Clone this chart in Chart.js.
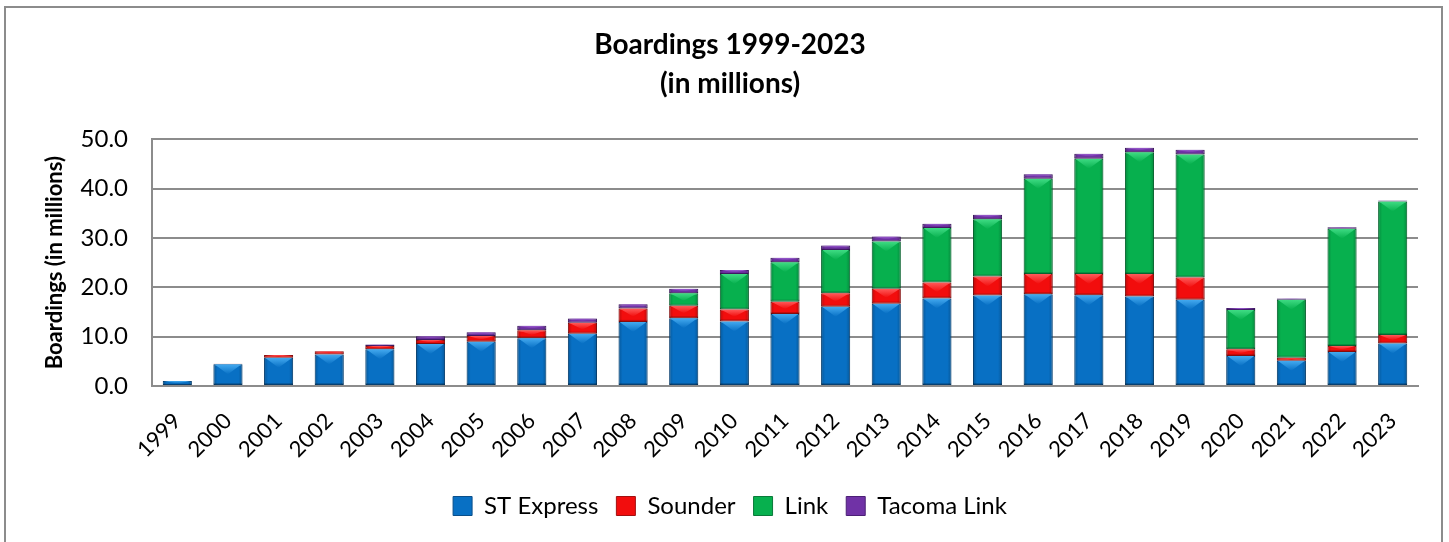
<!DOCTYPE html>
<html>
<head>
<meta charset="utf-8">
<script src="https://cdn.jsdelivr.net/npm/chart.js@4"></script>
<style>
  html, body { margin: 0; padding: 0; background: #fff; overflow: hidden; }
  #wrap { position: relative; width: 1449px; height: 542px; }
  #frame { position: absolute; left: 4px; top: 6px; width: 1439px; height: 600px;
           border: 2px solid #8c8c8c; box-sizing: border-box; pointer-events: none; }
</style>
</head>
<body>
<div id="wrap">
  <canvas id="chart"></canvas>
  <div id="frame"></div>
</div>
<script>
const years = ["1999","2000","2001","2002","2003","2004","2005","2006","2007","2008","2009","2010",
  "2011","2012","2013","2014","2015","2016","2017","2018","2019","2020","2021","2022","2023"];

const stExpress = [1.0, 4.4, 5.75, 6.4, 7.45, 8.5, 8.95, 9.7, 10.6, 13.0, 13.75, 13.1,
  14.6, 16.05, 16.7, 17.75, 18.35, 18.6, 18.4, 18.15, 17.5, 6.1, 5.1, 6.9, 8.6];
const sounder = [0, 0.1, 0.55, 0.65, 0.65, 0.85, 1.2, 1.6, 2.2, 2.7, 2.5, 2.4,
  2.5, 2.75, 3.0, 3.25, 3.85, 4.1, 4.3, 4.55, 4.5, 1.35, 0.65, 1.2, 1.75];
const link = [0, 0, 0, 0, 0, 0, 0, 0, 0, 0, 2.55, 7.2,
  8.0, 8.8, 9.6, 11.05, 11.6, 19.3, 23.4, 24.7, 24.95, 7.95, 11.75, 23.8, 27.05];
const tacomaLink = [0, 0, 0, 0, 0.3, 0.75, 0.75, 0.9, 0.9, 0.9, 0.9, 0.8,
  0.9, 0.9, 1.0, 0.85, 0.9, 0.95, 1.0, 0.9, 0.95, 0.4, 0.25, 0.3, 0.2];

const yTicks = [0, 10, 20, 30, 40, 50];

const FONT = "Lato, 'Open Sans', sans-serif";
const GRID = "#8c8c8c";

// bevel look, drawn on top of each bar from the bar element's own geometry
const bevel = {
  id: "bevel",
  afterDatasetsDraw(chart) {
    const ctx = chart.ctx;
    chart.data.datasets.forEach((ds, di) => {
      const meta = chart.getDatasetMeta(di);
      if (meta.hidden) return;
      meta.data.forEach(bar => {
        const p = bar.getProps(["x", "y", "base", "width"], true);
        const h = p.base - p.y;
        if (h < 1) return;
        const l = p.x - p.width / 2, r = p.x + p.width / 2;
        const d = Math.min(10, h * 0.6);
        ctx.save();
        ctx.beginPath();
        ctx.rect(l, p.y, p.width, h);
        ctx.clip();
        const side = ctx.createLinearGradient(l, 0, r, 0);
        side.addColorStop(0, "rgba(0,0,0,0.22)");
        side.addColorStop(0.14, "rgba(0,0,0,0)");
        side.addColorStop(0.86, "rgba(0,0,0,0)");
        side.addColorStop(1, "rgba(0,0,0,0.22)");
        ctx.fillStyle = side;
        ctx.fillRect(l, p.y, p.width, h);
        const top = ctx.createLinearGradient(0, p.y, 0, p.y + d);
        top.addColorStop(0, ds.light);
        top.addColorStop(1, ds.backgroundColor);
        ctx.fillStyle = top;
        ctx.beginPath();
        ctx.moveTo(l + 1, p.y);
        ctx.lineTo(r - 1, p.y);
        ctx.lineTo(p.x, p.y + d);
        ctx.closePath();
        ctx.fill();
        ctx.fillStyle = "rgba(0,0,0,0.18)";
        ctx.fillRect(l, p.base - Math.min(2, h / 3), p.width, Math.min(2, h / 3));
        ctx.restore();
      });
    });
  }
};

function series(label, data, color, light, border) {
  return {
    label, data,
    backgroundColor: color,
    light,
    borderColor: border,
    borderWidth: c => (c.raw ? 1 : 0),
    borderSkipped: false,
    categoryPercentage: 1,
    barPercentage: 0.575
  };
}

new Chart(document.getElementById("chart"), {
  type: "bar",
  data: {
    labels: years,
    datasets: [
      series("ST Express", stExpress, "#0870c4", "#44aaf0", "#0a4f8a"),
      series("Sounder", sounder, "#f20d0d", "#ff5a5a", "#a31010"),
      series("Link", link, "#07b04e", "#3fdc84", "#0a7a3a"),
      series("Tacoma Link", tacomaLink, "#7032a6", "#9c5ed0", "#4c2076")
    ]
  },
  options: {
    responsive: true,
    maintainAspectRatio: false,
    animation: false,
    layout: { padding: { left: 42, right: 31, top: 0, bottom: 14 } },
    plugins: {
      title: {
        display: true,
        text: ["Boardings 1999-2023", "(in millions)"],
        color: "#000",
        font: { family: FONT, size: 28, weight: "bold", lineHeight: 1.4 },
        padding: { top: 25, bottom: 36 }
      },
      legend: {
        position: "bottom",
        labels: {
          color: "#000",
          font: { family: FONT, size: 24 },
          boxWidth: 19,
          boxHeight: 19,
          padding: 18,
          generateLabels(chart) {
            return chart.data.datasets.map((ds, i) => ({
              text: ds.label,
              fillStyle: ds.backgroundColor,
              strokeStyle: ds.borderColor,
              lineWidth: 1,
              hidden: false,
              datasetIndex: i
            }));
          }
        }
      },
      tooltip: { enabled: false }
    },
    scales: {
      x: {
        stacked: true,
        grid: { display: false, drawTicks: false },
        border: { color: GRID, width: 2 },
        ticks: {
          color: "#000",
          font: { family: FONT, size: 22 },
          maxRotation: 45,
          minRotation: 45,
          padding: 22,
          autoSkip: false
        },
        afterFit(scale) { scale.height = 90; }
      },
      y: {
        stacked: true,
        min: 0,
        max: 50,
        afterBuildTicks(scale) { scale.ticks = yTicks.map(v => ({ value: v })); },
        grid: { color: GRID, lineWidth: 2, drawTicks: false },
        border: { color: GRID, width: 2 },
        ticks: {
          color: "#000",
          font: { family: FONT, size: 24 },
          padding: 24,
          callback: v => v.toFixed(1)
        },
        title: {
          display: true,
          text: "Boardings (in millions)",
          color: "#000",
          font: { family: FONT, size: 22, weight: "bold" },
          padding: { top: 0, bottom: 0 }
        },
        afterFit(scale) { scale.width = 110; }
      }
    }
  },
  plugins: [bevel]
});
</script>
</body>
</html>
